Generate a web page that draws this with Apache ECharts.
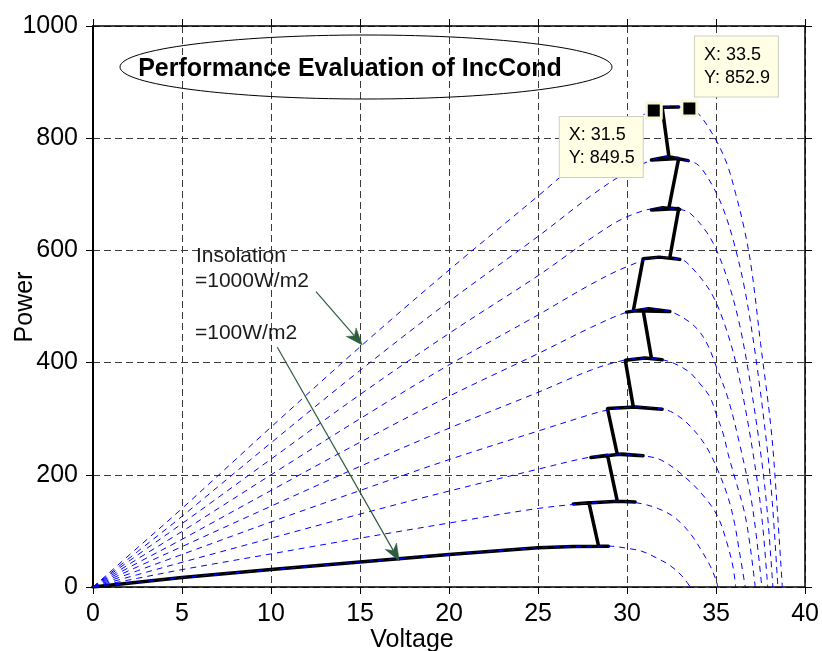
<!DOCTYPE html>
<html>
<head>
<meta charset="utf-8">
<script src="https://cdn.jsdelivr.net/npm/echarts@6/dist/echarts.min.js"></script>
<style>
  html, body { margin: 0; padding: 0; background: #fff; }
  #chart { width: 822px; height: 651px; }
</style>
</head>
<body>
<div id="chart"></div>
<script>
// Axis ranges and ticks
const xMin = 0, xMax = 40, xStep = 5;
const yMin = 0, yMax = 1000, yStep = 200;

// P-V curves [voltage, power], one per insolation level (W/m2)
const insolation = [100, 200, 300, 400, 500, 600, 700, 800, 900, 1000];
const pv100 = [[0,0],[2.5,8.5],[5,17],[10,31],[15,44.6],[20,58],[25,70],[27,72.3],[28.5,73],[29.2,72.5],[30,69],[30.8,64],[31.65,52],[32.4,38.6],[33.05,20.8],[33.55,0]];
const pv200 = [[0,0],[2.5,15.5],[5,31],[10,59],[15,87],[20,114],[25,140],[28,150],[29.5,153],[30.8,148.6],[31.75,139.7],[32.5,127.8],[33.15,110],[33.7,89],[34.17,65.4],[34.65,38.7],[35.0,12],[35.1,0]];
const pv300 = [[0,0],[2.5,22],[5,44],[10,87],[15,130],[20,171],[25,210],[28,232],[29.7,237],[30.9,234],[31.93,226],[33.25,196],[34.36,160],[35.1,125],[35.57,83],[35.95,36],[36.1,0]];
const pv400 = [[0,0],[2.5,29],[5,58],[10,116],[15,172],[20,227],[25,278],[28,308],[29,316],[30.5,321],[32,317],[32.68,309],[33.6,285],[34.45,250],[35.1,208],[35.67,160],[36.04,113],[36.3,65],[36.64,0]];
const pv500 = [[0,0],[2.5,36],[5,72],[10,144],[15,215],[20,283],[25,347],[28,387],[29.8,404],[31,408],[32,405],[32.68,398],[33.5,383],[34.1,362],[34.65,339],[35.0,309],[35.4,273],[35.67,238],[35.96,205],[36.58,135],[36.89,78],[37.2,0]];
const pv600 = [[0,0],[2.5,43],[5,85],[10,172],[15,258],[20,340],[25,416],[28,463],[30,490],[31.2,496],[32.4,491],[33.25,478],[34.0,458],[34.55,430],[35.02,392],[35.66,337],[36.3,258],[36.93,164],[37.25,94],[37.57,0]];
const pv700 = [[0,0],[2.5,50],[5,99],[10,200],[15,300],[20,396],[25,485],[28,540],[30,571],[31.8,588],[33,584],[33.33,579],[34.24,547],[34.85,517],[35.46,470],[36.07,405],[36.68,312],[37.29,194],[37.6,115],[37.9,0]];
const pv800 = [[0,0],[2.5,57],[5,113],[10,228],[15,343],[20,452],[25,555],[28,622],[30,660],[32,676],[33,673],[33.55,666],[34.48,632],[35.1,595],[35.71,541],[36.33,466],[36.95,358],[37.57,223],[37.88,132],[38.19,0]];
const pv900 = [[0,0],[2.5,63],[5,126],[10,257],[15,386],[20,509],[25,625],[28,698],[30,740],[31.4,761],[32.3,767],[33.4,760],[34.0,752],[34.77,717],[35.39,675],[36.0,614],[36.62,529],[37.24,407],[37.85,253],[38.16,150],[38.47,0]];
const pv1000 = [[0,0],[2.5,70],[5,140],[10,285],[15,428],[20,565],[25,697],[28,778],[30,826],[31.5,849.5],[32.5,856],[33.5,852.9],[34,844],[34.9,802],[35.6,755],[36.1,701],[36.6,636],[37.0,565],[37.5,434],[38.06,291],[38.3,202],[38.72,0]];
const pvCurves = [pv100, pv200, pv300, pv400, pv500, pv600, pv700, pv800, pv900, pv1000];

// Operating point trajectory of the IncCond tracker as insolation steps up
const mpptPath = [
  [0,0],[5,17],[10,31],[15,44.6],[20,58],[25,70],[27,72.3],[28.95,72.8],[28.4,73],
  [27.86,150],[26.98,148],[28,150],[29.5,153],[30.45,151.5],[29.45,153],
  [28.9,235],[27.97,231],[29.7,237],[30.9,234],[29.45,236.5],
  [28.9,318],[28.85,318],[30.5,321],[31.97,317],[30.35,321],
  [29.9,404],[29.84,404],[31,408],[31.97,405],[31.37,407.5],
  [30.9,494],[29.97,490],[31.2,496],[32.4,491],[30.35,492.5],
  [30.9,585],[31.8,588],[32.96,584],[32.4,587],
  [32.9,674.5],[31.37,672],[32,676],[32.96,673],[32.35,676],
  [32.9,764],[31.37,761],[32.3,767],[33.43,760],[32.35,767],
  [31.97,855],[32.9,855.5]
];

// Data tips at the final operating points
const tipPoints = [[31.5, 849.5], [33.5, 852.9]];

const FONT = '"Liberation Sans", Arial, Helvetica, sans-serif';
const chart = echarts.init(document.getElementById('chart'), null, { renderer: 'canvas' });

const gridLine = { show: true, lineStyle: { color: '#3a3a3a', width: 1, type: [7, 4] } };
const frameTick = { show: true, inside: false, length: 7, lineStyle: { color: '#000', width: 1 } };

function tipLabel(p, pos) {
  return {
    show: true,
    formatter: 'X: ' + p[0] + '\nY: ' + p[1],
    position: pos,
    align: 'left',
    verticalAlign: 'top',
    width: 65,
    fontFamily: FONT,
    fontSize: 18,
    lineHeight: 23,
    color: '#000',
    backgroundColor: '#ffffe6',
    borderColor: '#cfcfc0',
    borderWidth: 1,
    padding: [7, 9, 7, 9]
  };
}

const series = [];
series.push({
  name: 'IncCond',
  type: 'line',
  data: mpptPath,
  showSymbol: false,
  symbol: 'none',
  lineStyle: { color: '#000', width: 3.5, join: 'round', cap: 'round' },
  z: 2,
  silent: true
});
pvCurves.forEach(function (curve, i) {
  series.push({
    name: insolation[i] + ' W/m2',
    type: 'line',
    data: curve,
    smooth: 0.35,
    showSymbol: false,
    symbol: 'none',
    lineStyle: { color: '#0000ff', width: 1, type: [6, 5] },
    z: 3,
    silent: true
  });
});
series.push({
  name: 'tips',
  type: 'scatter',
  symbol: 'rect',
  symbolSize: 15,
  itemStyle: { color: '#000', borderColor: '#f8f8d8', borderWidth: 3, opacity: 1 },
  data: [
    { value: tipPoints[0], label: tipLabel(tipPoints[0], [-85, 15.5]) },
    { value: tipPoints[1], label: tipLabel(tipPoints[1], [14.5, -63]) }
  ],
  z: 10,
  silent: true
});

// Straight annotation arrow with a swept-back head
function arrow(x0, y0, x1, y1, color) {
  const dx = x1 - x0, dy = y1 - y0;
  const len = Math.sqrt(dx * dx + dy * dy);
  const ux = dx / len, uy = dy / len, nx = -uy, ny = ux;
  const L = 17, W = 6.5, N = 5;
  const head = [
    [x1, y1],
    [x1 - ux * L + nx * W, y1 - uy * L + ny * W],
    [x1 - ux * (L - N), y1 - uy * (L - N)],
    [x1 - ux * L - nx * W, y1 - uy * L - ny * W]
  ];
  return [
    { type: 'line', shape: { x1: x0, y1: y0, x2: x1 - ux * (L - N), y2: y1 - uy * (L - N) },
      style: { stroke: color, lineWidth: 1.2 }, z: 20 },
    { type: 'polygon', shape: { points: head }, style: { fill: color, stroke: color, lineWidth: 0.5 }, z: 20 }
  ];
}

const ARROW_COLOR = '#2c5d3d';
const graphics = [
  { type: 'ellipse', shape: { cx: 366, cy: 67, rx: 246, ry: 32 },
    style: { fill: null, stroke: '#000', lineWidth: 1 }, z: 20 },
  { type: 'text', x: 350, y: 69.5,
    style: { text: 'Performance Evaluation of IncCond', fontFamily: FONT, fontWeight: 'bold', fontSize: 25,
             fill: '#000', align: 'center', verticalAlign: 'middle' }, z: 21 },
  { type: 'text', x: 196, y: 256,
    style: { text: 'Insolation', fontFamily: FONT, fontSize: 21, fill: '#1a1a1a', align: 'left', verticalAlign: 'middle' }, z: 21 },
  { type: 'text', x: 195, y: 281,
    style: { text: '=1000W/m2', fontFamily: FONT, fontSize: 21, fill: '#1a1a1a', align: 'left', verticalAlign: 'middle' }, z: 21 },
  { type: 'text', x: 195, y: 333,
    style: { text: '=100W/m2', fontFamily: FONT, fontSize: 21, fill: '#1a1a1a', align: 'left', verticalAlign: 'middle' }, z: 21 },
  { type: 'text', x: 412, y: 640,
    style: { text: 'Voltage', fontFamily: FONT, fontSize: 25, fill: '#000', align: 'center', verticalAlign: 'middle' }, z: 21 },
  { type: 'text', x: 25, y: 307, rotation: Math.PI / 2,
    style: { text: 'Power', fontFamily: FONT, fontSize: 25, fill: '#000', align: 'center', verticalAlign: 'middle' }, z: 21 }
].concat(arrow(316, 291.7, 362.3, 345, ARROW_COLOR))
 .concat(arrow(277.3, 347.3, 399.3, 561, ARROW_COLOR));

const option = {
  animation: false,
  backgroundColor: '#fff',
  grid: { left: 93, right: 16, top: 26, bottom: 64, containLabel: false },
  xAxis: [
    {
      type: 'value', min: xMin, max: xMax, interval: xStep, position: 'bottom',
      axisLine: { show: true, onZero: false, lineStyle: { color: '#000', width: 1.5 } },
      axisTick: frameTick,
      axisLabel: { show: true, fontFamily: FONT, fontSize: 25, color: '#000', margin: 15,
                   formatter: function (v) { return String(v); } },
      splitLine: gridLine
    },
    {
      type: 'value', min: xMin, max: xMax, interval: xStep, position: 'top',
      axisLine: { show: true, onZero: false, lineStyle: { color: '#000', width: 1.5 } },
      axisTick: frameTick, axisLabel: { show: false }, splitLine: { show: false }
    }
  ],
  yAxis: [
    {
      type: 'value', min: yMin, max: yMax, interval: yStep, position: 'left',
      axisLine: { show: true, onZero: false, lineStyle: { color: '#000', width: 2 } },
      axisTick: frameTick,
      axisLabel: { show: true, fontFamily: FONT, fontSize: 25, color: '#000', margin: 15,
                   formatter: function (v) { return String(v); } },
      splitLine: gridLine
    },
    {
      type: 'value', min: yMin, max: yMax, interval: yStep, position: 'right',
      axisLine: { show: true, onZero: false, lineStyle: { color: '#000', width: 1.5 } },
      axisTick: frameTick, axisLabel: { show: false }, splitLine: { show: false }
    }
  ],
  series: series,
  graphic: graphics
};

chart.setOption(option);
</script>
</body>
</html>
